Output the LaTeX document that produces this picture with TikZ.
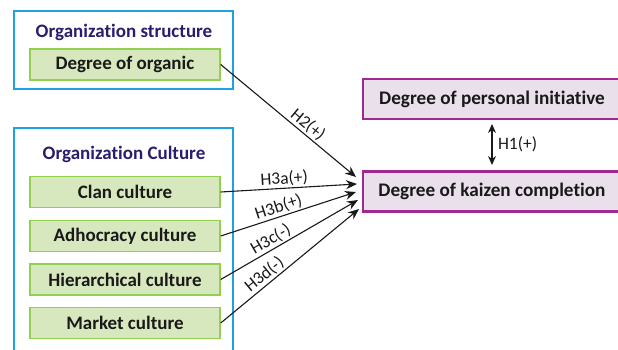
\documentclass[tikz,border=0pt]{standalone}
\usepackage{fontspec}
\setmainfont[Ligatures=NoCommon]{Carlito}
\usetikzlibrary{arrows.meta}
\definecolor{bluebox}{RGB}{30,160,225}
\definecolor{navytitle}{RGB}{40,30,110}
\definecolor{greenline}{RGB}{146,208,80}
\definecolor{greenfill}{RGB}{216,232,190}
\definecolor{magline}{RGB}{160,40,145}
\definecolor{magfill}{RGB}{234,224,236}
\definecolor{txt}{RGB}{25,25,25}
\tikzset{
  outerbox/.style={draw=bluebox, line width=2pt},
  titletext/.style={text=navytitle, font=\fontsize{19}{22}\selectfont\bfseries},
  greenbox/.style={draw=greenline, fill=greenfill, line width=1.4pt, minimum width=190pt, minimum height=31pt, inner sep=0pt, text=txt, font=\fontsize{19}{22}\selectfont\bfseries},
  magbox/.style={draw=magline, fill=magfill, line width=2.2pt, minimum width=258pt, minimum height=40pt, inner sep=0pt, text=txt, font=\fontsize{19.2}{22}\selectfont\bfseries},
  conn/.style={line width=1.1pt, draw=txt, -{Stealth[length=11pt,width=9pt]}},
  hlabel/.style={font=\fontsize{17.5}{20}\selectfont, text=txt, inner sep=1.5pt}
}
\begin{document}
\begin{tikzpicture}[x=1pt,y=-1pt]
\useasboundingbox (0,0) rectangle (618,349);
\draw[outerbox] (14,11) rectangle (233,89);
\draw[outerbox] (14,128) rectangle (233,360);
\node[titletext] (t1) at (124,32) {Organization structure};
\node[titletext] (t2) at (124,154) {Organization Culture};
\node[greenbox] (org) at (125,64.5) {Degree of organic};
\node[greenbox] (clan) at (125,192) {Clan culture};
\node[greenbox] (adho) at (125,236) {Adhocracy culture};
\node[greenbox] (hier) at (125,279.5) {Hierarchical culture};
\node[greenbox] (mark) at (125,323) {Market culture};
\node[magbox] (pers) at (492,99) {Degree of personal initiative};
\node[magbox] (kaiz) at (492,191.5) {Degree of kaizen completion};
\coordinate (e2) at (356,177);
\coordinate (e3a) at (357,184);
\coordinate (e3b) at (356,192);
\coordinate (e3c) at (358,200);
\coordinate (e3d) at (359,209);
\draw[conn] (org.east) -- node[hlabel, sloped, above, pos=0.6] {H2(+)} (e2);
\draw[conn] (clan.east) -- node[hlabel, sloped, above, pos=0.47] {H3a(+)} (e3a);
\draw[conn] (adho.east) -- node[hlabel, sloped, above, pos=0.45] {H3b(+)} (e3b);
\draw[conn] (hier.east) -- node[hlabel, sloped, above, pos=0.4] {H3c(-)} (e3c);
\draw[conn] (mark.east) -- node[hlabel, sloped, above, pos=0.36] {H3d(-)} (e3d);
\coordinate (h1a) at (492,124);
\coordinate (h1b) at (492,165);
\draw[line width=1.1pt, draw=txt, {Stealth[length=9pt,width=8pt]}-{Stealth[length=9pt,width=8pt]}] (h1a) -- node[hlabel, right=4pt] {H1(+)} (h1b);
\end{tikzpicture}
\end{document}
